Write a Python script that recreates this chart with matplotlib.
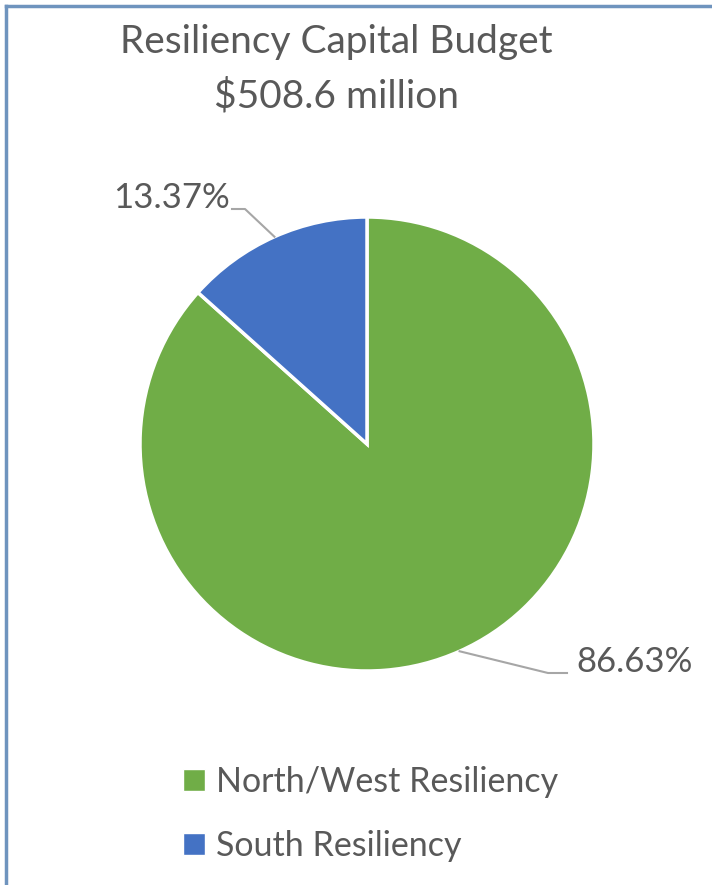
#!/usr/bin/env python

"""Pie chart of the resiliency capital budget"""

import numpy as np
import matplotlib.pyplot as plt
from matplotlib.lines import Line2D

# Data
categories = ["North/West Resiliency", "South Resiliency"]
shares     = [86.63, 13.37]
colors     = ["#70AD47", "#4472C4"]
titleLines = ["Resiliency Capital Budget", "$508.6 million"]

textColor = "#595959"
lineColor = "#A6A6A6"
W, H = 712, 885

plt.rcParams["font.family"] = ["Lato", "DejaVu Sans"]

fig = plt.figure(figsize=(W/100, H/100), dpi=100)
ax  = fig.add_axes([0, 0, 1, 1])

# Pie (pixel coordinates, y measured from bottom)
cx, cy, r = 367, H - 444, 227
wedges, _ = ax.pie(shares, colors=colors, startangle=90, counterclock=False,
                   center=(cx, cy), radius=r, frame=True,
                   wedgeprops={"edgecolor": "white", "linewidth": 2.5})
ax.set_xlim(0, W)
ax.set_ylim(0, H)
ax.set_aspect("equal")
ax.axis("off")

# Data labels with leader lines
labelInfo = [
    {"elbow": (548, H - 673), "end": (567, H - 673), "ha": "left"},
    {"elbow": (245, H - 209), "end": (232, H - 209), "ha": "right"},
]
for w, share, info in zip(wedges, shares, labelInfo):
    ang = np.deg2rad((w.theta1 + w.theta2)/2)
    px, py = cx + r*np.cos(ang), cy + r*np.sin(ang)
    ex, ey = info["elbow"]
    hx, hy = info["end"]
    ax.add_line(Line2D([px, ex, hx], [py, ey, hy], color=lineColor, lw=1.5))
    off = 9 if info["ha"] == "left" else -2
    ax.text(hx + off, hy + 11, "{:.2f}%".format(share), ha=info["ha"],
            va="center", fontsize=25, color=textColor)

# Title
fig.text(336/W, 1 - 42/H, titleLines[0], ha="center", va="center",
         fontsize=28, color=textColor)
fig.text(336/W, 1 - 96/H, titleLines[1], ha="center", va="center",
         fontsize=28, color=textColor)

# Legend
handles = [Line2D([], [], marker="s", ls="none", markersize=16,
                  markerfacecolor=c, markeredgecolor="white")
           for c in colors]
fig.legend(handles, categories, loc="upper left",
           bbox_to_anchor=(163/W, 1 - 752/H), frameon=False, fontsize=24.5,
           labelcolor=textColor, handletextpad=0.15, labelspacing=0.95,
           handlelength=1.0, borderaxespad=0)

# Chart border (left and top edges)
borderColor = "#6F94BE"
fig.add_artist(Line2D([6/W, 6/W], [0, 1 - 6/H], color=borderColor, lw=2.5,
                      transform=fig.transFigure))
fig.add_artist(Line2D([6/W, 1], [1 - 6/H, 1 - 6/H], color=borderColor,
                      lw=2.5, transform=fig.transFigure))

fig.savefig("out.png", dpi=100, facecolor="white")
